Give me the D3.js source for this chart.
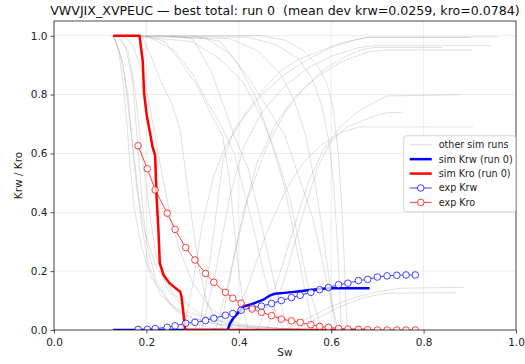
<!DOCTYPE html>
<html>
<head>
<meta charset="utf-8">
<script src="https://cdn.jsdelivr.net/npm/d3@7"></script>
<style>
  body { margin: 0; background: #fff; }
  svg { font-family: "DejaVu Sans", sans-serif; }
</style>
</head>
<body>
<div id="chart"></div>
<script>
// experimental points
const expSw  = [0.182, 0.202, 0.219, 0.245, 0.262, 0.285, 0.305, 0.328, 0.346, 0.371, 0.387, 0.405, 0.429, 0.449, 0.471,
                0.492, 0.514, 0.533, 0.556, 0.575, 0.594, 0.616, 0.636, 0.659, 0.679, 0.700, 0.721, 0.742, 0.762, 0.782];
const expKro = [0.626, 0.548, 0.476, 0.397, 0.342, 0.280, 0.238, 0.192, 0.162, 0.128, 0.108, 0.091, 0.071, 0.060, 0.049,
                0.037, 0.031, 0.026, 0.018, 0.012, 0.009, 0.005, 0.003, 0.002, 0.001, 0, 0, 0, 0, 0];
const expKrw = [0.002, 0.002, 0.005, 0.009, 0.014, 0.023, 0.026, 0.032, 0.040, 0.050, 0.056, 0.067, 0.076, 0.081, 0.090,
                0.100, 0.110, 0.118, 0.128, 0.137, 0.144, 0.154, 0.159, 0.168, 0.172, 0.180, 0.184, 0.186, 0.187, 0.187];

// best run (run 0)
const simKro = [[0.128, 1], [0.185, 1], [0.192, 0.915], [0.195, 0.805], [0.201, 0.726], [0.208, 0.669], [0.213, 0.624],
                [0.218, 0.598], [0.219, 0.590], [0.222, 0.453], [0.226, 0.340], [0.229, 0.227], [0.237, 0.187],
                [0.250, 0.159], [0.273, 0.130], [0.276, 0.113], [0.281, 0.045], [0.284, 0], [0.683, 0]];
const simKrw = [[0.128, 0], [0.376, 0], [0.378, 0.010], [0.381, 0.023], [0.388, 0.040], [0.395, 0.052], [0.403, 0.065],
                [0.410, 0.080], [0.428, 0.088], [0.453, 0.103], [0.468, 0.118], [0.478, 0.123], [0.504, 0.127],
                [0.532, 0.132], [0.554, 0.136], [0.594, 0.142], [0.683, 0.142]];

// the other runs, kro curves
const otherKro = [
  [[0.128, 1], [0.14, 0.95], [0.15, 0.83], [0.158, 0.7], [0.165, 0.55], [0.175, 0.4], [0.19, 0.28], [0.21, 0.18], [0.25, 0.09], [0.30, 0.04], [0.38, 0.01], [0.42, 0]],
  [[0.128, 1], [0.145, 0.93], [0.16, 0.8], [0.17, 0.62], [0.18, 0.47], [0.195, 0.34], [0.22, 0.22], [0.26, 0.12], [0.32, 0.05], [0.40, 0.015], [0.46, 0]],
  [[0.13, 1], [0.15, 0.9], [0.165, 0.7], [0.18, 0.5], [0.19, 0.35], [0.205, 0.22], [0.23, 0.12], [0.28, 0.05], [0.35, 0.02], [0.5, 0.005], [0.56, 0]],
  [[0.135, 1], [0.155, 0.96], [0.17, 0.85], [0.18, 0.65], [0.19, 0.45], [0.2, 0.3], [0.22, 0.17], [0.26, 0.07], [0.31, 0.02], [0.36, 0]],
  [[0.14, 1], [0.16, 0.95], [0.175, 0.82], [0.19, 0.6], [0.205, 0.42], [0.22, 0.26], [0.245, 0.14], [0.29, 0.06], [0.4, 0.01], [0.6, 0]],
  [[0.19, 1], [0.21, 0.93], [0.23, 0.85], [0.255, 0.77], [0.273, 0.68], [0.287, 0.51], [0.30, 0.36], [0.315, 0.2], [0.33, 0.1], [0.35, 0.03], [0.37, 0]],
  [[0.2, 1], [0.24, 0.98], [0.27, 0.92], [0.31, 0.83], [0.338, 0.74], [0.365, 0.66], [0.38, 0.51], [0.39, 0.35], [0.40, 0.2], [0.41, 0.08], [0.42, 0]],
  [[0.25, 1], [0.3, 0.99], [0.34, 0.88], [0.37, 0.75], [0.39, 0.66], [0.42, 0.55], [0.44, 0.42], [0.46, 0.28], [0.48, 0.14], [0.5, 0.04], [0.51, 0]],
  [[0.3, 1], [0.36, 0.98], [0.4, 0.9], [0.44, 0.78], [0.47, 0.64], [0.5, 0.48], [0.52, 0.32], [0.54, 0.16], [0.555, 0.05], [0.56, 0]],
  [[0.13, 1], [0.45, 1], [0.5, 0.985], [0.54, 0.95], [0.57, 0.9], [0.59, 0.84], [0.605, 0.75], [0.615, 0.6], [0.622, 0.45], [0.628, 0.25], [0.632, 0.08], [0.635, 0]],
  [[0.13, 1], [0.42, 0.995], [0.48, 0.97], [0.53, 0.92], [0.56, 0.85], [0.58, 0.76], [0.595, 0.64], [0.605, 0.5], [0.612, 0.33], [0.618, 0.15], [0.622, 0]],
  [[0.13, 1], [0.38, 0.99], [0.44, 0.95], [0.49, 0.87], [0.52, 0.78], [0.545, 0.66], [0.565, 0.5], [0.58, 0.35], [0.595, 0.18], [0.605, 0.05], [0.61, 0]],
  [[0.16, 1], [0.3, 0.98], [0.36, 0.92], [0.41, 0.84], [0.45, 0.72], [0.48, 0.6], [0.51, 0.45], [0.53, 0.3], [0.55, 0.15], [0.57, 0.05], [0.58, 0]],
  [[0.2, 1], [0.26, 0.95], [0.3, 0.87], [0.33, 0.78], [0.36, 0.7], [0.39, 0.6], [0.41, 0.48], [0.43, 0.36], [0.45, 0.22], [0.47, 0.1], [0.49, 0.02], [0.5, 0]],
  [[0.22, 1], [0.33, 0.99], [0.38, 0.94], [0.42, 0.86], [0.46, 0.76], [0.5, 0.66], [0.53, 0.52], [0.56, 0.38], [0.58, 0.24], [0.6, 0.1], [0.615, 0]],
  [[0.15, 1], [0.17, 0.97], [0.19, 0.88], [0.205, 0.78], [0.22, 0.65], [0.235, 0.52], [0.25, 0.4], [0.27, 0.28], [0.3, 0.16], [0.34, 0.07], [0.4, 0.02], [0.52, 0]]
];

// the other runs, krw curves
const otherKrw = [
  [[0.30, 0], [0.316, 0.02], [0.338, 0.24], [0.352, 0.41], [0.366, 0.58], [0.39, 0.68], [0.43, 0.77], [0.46, 0.83], [0.49, 0.88], [0.53, 0.92], [0.58, 0.95], [0.62, 0.975], [0.68, 0.995], [0.96, 0.995]],
  [[0.32, 0], [0.35, 0.2], [0.38, 0.45], [0.41, 0.62], [0.45, 0.74], [0.5, 0.83], [0.55, 0.89], [0.6, 0.93], [0.66, 0.96], [0.69, 0.966], [0.948, 0.966]],
  [[0.35, 0], [0.38, 0.18], [0.41, 0.4], [0.44, 0.57], [0.48, 0.7], [0.52, 0.79], [0.57, 0.86], [0.62, 0.91], [0.68, 0.945], [0.72, 0.952], [0.905, 0.952]],
  [[0.28, 0], [0.3, 0.15], [0.32, 0.35], [0.345, 0.52], [0.37, 0.62], [0.41, 0.72], [0.45, 0.8], [0.5, 0.87], [0.55, 0.92], [0.6, 0.96], [0.65, 0.985], [0.68, 0.995], [0.9, 0.995]],
  [[0.38, 0], [0.42, 0.15], [0.46, 0.33], [0.5, 0.47], [0.54, 0.57], [0.58, 0.63], [0.62, 0.67], [0.66, 0.69], [0.907, 0.69]],
  [[0.44, 0], [0.48, 0.15], [0.52, 0.35], [0.55, 0.5], [0.582, 0.61], [0.619, 0.69], [0.656, 0.74], [0.69, 0.77], [0.72, 0.795], [0.88, 0.8]],
  [[0.46, 0], [0.5, 0.18], [0.54, 0.4], [0.57, 0.55], [0.597, 0.635], [0.634, 0.69], [0.69, 0.725], [0.72, 0.738], [0.755, 0.74]],
  [[0.36, 0], [0.39, 0.25], [0.42, 0.45], [0.46, 0.62], [0.5, 0.74], [0.54, 0.82], [0.58, 0.88], [0.62, 0.92], [0.66, 0.95], [0.69, 0.96], [0.84, 0.96]],
  [[0.5, 0], [0.55, 0.04], [0.6, 0.08], [0.65, 0.11], [0.7, 0.13], [0.75, 0.142], [0.886, 0.145]],
  [[0.52, 0], [0.57, 0.04], [0.62, 0.08], [0.67, 0.11], [0.72, 0.125], [0.87, 0.127]]
];

const xTicks = [0, 0.2, 0.4, 0.6, 0.8, 1.0];
const yTicks = [0, 0.2, 0.4, 0.6, 0.8, 1.0];

const legendItems = [
  { label: 'other sim runs', kind: 'other' },
  { label: 'sim Krw (run 0)', kind: 'simKrw' },
  { label: 'sim Kro (run 0)', kind: 'simKro' },
  { label: 'exp Krw', kind: 'expKrw' },
  { label: 'exp Kro', kind: 'expKro' }
];

const W = 525, H = 364;
const margin = { top: 21, right: 9, bottom: 34, left: 54 };
const width = W - margin.left - margin.right;
const height = H - margin.top - margin.bottom;

const svg = d3.select('#chart').append('svg')
  .attr('width', W)
  .attr('height', H);

const x = d3.scaleLinear().domain([0, 1]).range([0, width]);
const y = d3.scaleLinear().domain([0, 1.05]).range([height, 0]);

const g = svg.append('g')
  .attr('transform', `translate(${margin.left},${margin.top})`);

// grid
g.append('g').selectAll('line')
  .data(xTicks)
  .enter().append('line')
  .attr('x1', (d) => x(d)).attr('x2', (d) => x(d))
  .attr('y1', 0).attr('y2', height)
  .attr('stroke', '#b0b0b0').attr('stroke-opacity', 0.3).attr('stroke-width', 0.8);
g.append('g').selectAll('line')
  .data(yTicks)
  .enter().append('line')
  .attr('y1', (d) => y(d)).attr('y2', (d) => y(d))
  .attr('x1', 0).attr('x2', width)
  .attr('stroke', '#b0b0b0').attr('stroke-opacity', 0.3).attr('stroke-width', 0.8);

svg.append('clipPath').attr('id', 'plotclip')
  .append('rect').attr('width', width).attr('height', height);

const plot = g.append('g').attr('clip-path', 'url(#plotclip)');

const line = d3.line()
  .x((d) => x(d[0]))
  .y((d) => y(d[1]));

// other runs
plot.selectAll('.other')
  .data(otherKro.concat(otherKrw))
  .enter().append('path')
  .attr('class', 'other')
  .attr('d', line)
  .attr('fill', 'none')
  .attr('stroke', '#808080')
  .attr('stroke-opacity', 0.28)
  .attr('stroke-width', 0.9);

// best run
plot.append('path').attr('d', line(simKrw))
  .attr('fill', 'none').attr('stroke', '#0000ff').attr('stroke-width', 2.5);
plot.append('path').attr('d', line(simKro))
  .attr('fill', 'none').attr('stroke', '#ff0000').attr('stroke-width', 2.5);

// experimental data
const expSeries = [
  { vals: expKrw, color: '#0000ff' },
  { vals: expKro, color: '#ff0000' }
];
for (const s of expSeries) {
  const pts = expSw.map((sw, i) => [sw, s.vals[i]]);
  const eg = plot.append('g').attr('opacity', 0.75);
  eg.append('path').attr('d', line(pts))
    .attr('fill', 'none').attr('stroke', s.color).attr('stroke-width', 1);
  eg.selectAll('circle')
    .data(pts)
    .enter().append('circle')
    .attr('cx', (d) => x(d[0]))
    .attr('cy', (d) => y(d[1]))
    .attr('r', 3.3)
    .attr('fill', '#fff')
    .attr('stroke', s.color)
    .attr('stroke-width', 1);
}

// axes
const xAxis = g.append('g')
  .attr('transform', `translate(0,${height})`)
  .call(d3.axisBottom(x).tickValues(xTicks).tickFormat(d3.format('.1f')).tickSizeOuter(0).tickSize(3.5));
const yAxis = g.append('g')
  .call(d3.axisLeft(y).tickValues(yTicks).tickFormat(d3.format('.1f')).tickSizeOuter(0).tickSize(3.5));
for (const ax of [xAxis, yAxis]) {
  ax.selectAll('text').attr('font-size', 10.5).attr('fill', '#222').attr('font-family', 'DejaVu Sans');
  ax.selectAll('line').attr('stroke', '#222').attr('stroke-width', 0.8);
  ax.select('.domain').remove();
}
xAxis.selectAll('text').attr('dy', '0.95em');

// frame
g.append('rect')
  .attr('width', width).attr('height', height)
  .attr('fill', 'none').attr('stroke', '#222').attr('stroke-width', 0.8);

// labels
svg.append('text')
  .attr('x', margin.left + width / 2).attr('y', 15)
  .attr('text-anchor', 'middle').attr('font-size', 12.6).attr('fill', '#111')
  .style('white-space', 'pre')
  .text('VWVJIX_XVPEUC \u2014 best total: run 0  (mean dev krw=0.0259, kro=0.0784)');
svg.append('text')
  .attr('x', margin.left + width / 2).attr('y', 356)
  .attr('text-anchor', 'middle').attr('font-size', 10.5).attr('fill', '#222')
  .text('Sw');
svg.append('text')
  .attr('transform', `translate(22,${margin.top + height / 2}) rotate(-90)`)
  .attr('text-anchor', 'middle').attr('font-size', 10.5).attr('fill', '#222')
  .text('Krw / Kro');

// legend
const lg = g.append('g').attr('transform', `translate(${x(0.757)},${y(0.66)})`);
lg.append('rect')
  .attr('width', 112).attr('height', 76).attr('rx', 2.5)
  .attr('fill', '#fff').attr('fill-opacity', 0.8)
  .attr('stroke', '#ccc').attr('stroke-width', 0.8);
const rows = lg.selectAll('.row')
  .data(legendItems)
  .enter().append('g')
  .attr('transform', (d, i) => `translate(6,${9 + i * 14.4})`);
rows.append('line')
  .attr('x1', 0).attr('x2', 22).attr('y1', 0).attr('y2', 0)
  .attr('stroke', (d) => ({ other: '#808080', simKrw: '#0000ff', simKro: '#ff0000', expKrw: '#0000ff', expKro: '#ff0000' })[d.kind])
  .attr('stroke-opacity', (d) => d.kind === 'other' ? 0.3 : (d.kind.startsWith('exp') ? 0.75 : 1))
  .attr('stroke-width', (d) => d.kind.startsWith('sim') ? 2.5 : 1);
rows.filter((d) => d.kind.startsWith('exp'))
  .append('circle')
  .attr('cx', 11).attr('cy', 0).attr('r', 3.3)
  .attr('fill', '#fff')
  .attr('stroke', (d) => d.kind === 'expKrw' ? '#0000ff' : '#ff0000')
  .attr('stroke-opacity', 0.75);
rows.append('text')
  .attr('x', 29).attr('y', 0).attr('dy', '0.35em')
  .attr('font-size', 9.6).attr('fill', '#222')
  .text((d) => d.label);
</script>
</body>
</html>
